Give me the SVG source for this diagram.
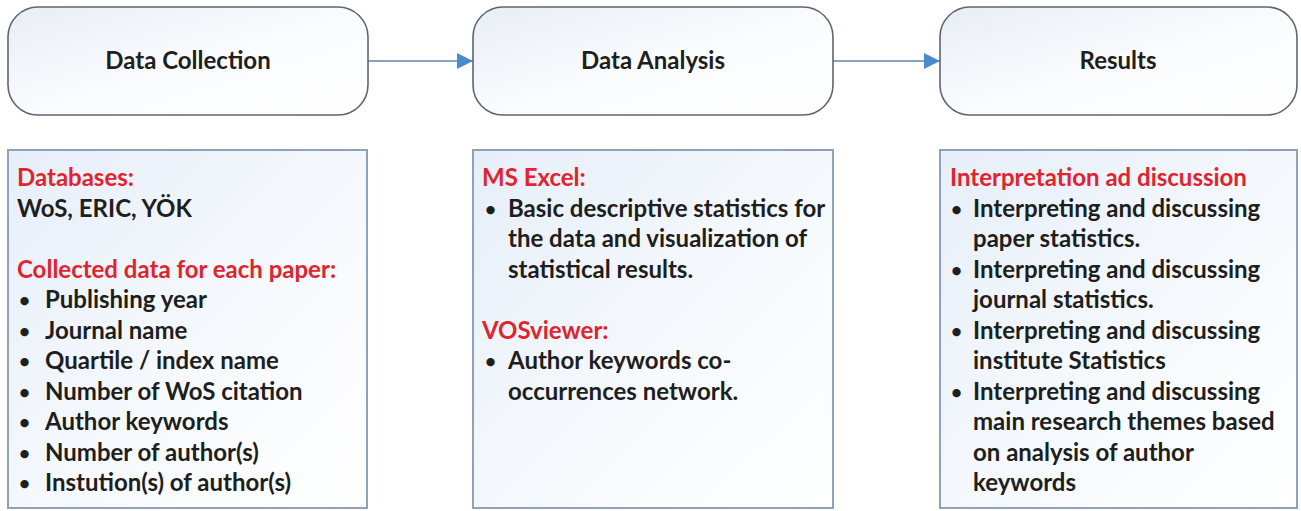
<svg xmlns="http://www.w3.org/2000/svg" width="1301" height="511" viewBox="0 0 1301 511">
  <defs>
    <linearGradient id="stageFill" x1="0" y1="0" x2="1" y2="1">
      <stop offset="0" stop-color="#e8edf5"/>
      <stop offset="0.55" stop-color="#fbfcfe"/>
      <stop offset="1" stop-color="#ffffff"/>
    </linearGradient>
    <linearGradient id="panelFill" x1="0" y1="0" x2="1" y2="1">
      <stop offset="0" stop-color="#e6eef8"/>
      <stop offset="0.6" stop-color="#f7fafd"/>
      <stop offset="1" stop-color="#ffffff"/>
    </linearGradient>
    <marker id="arrowHead" viewBox="0 0 10 10" refX="10" refY="5" markerWidth="16" markerHeight="16" markerUnits="userSpaceOnUse" orient="auto">
      <path d="M0,0 L10,5 L0,10 Z" fill="#4a8bd0"/>
    </marker>
  </defs>
  <style>
    .stage { fill: url(#stageFill); stroke: #5d6670; stroke-width: 1.6; }
    .panel { fill: url(#panelFill); stroke: #8ea3bb; stroke-width: 2; }
    .title { font-family: Lato, "Liberation Sans", sans-serif; font-weight: bold; font-size: 24px; fill: #1e1e1e; text-anchor: middle; }
    .txt { font-family: Lato, "Liberation Sans", sans-serif; font-weight: bold; font-size: 24px; fill: #1e1e1e; }
    .head { fill: #e0242e; }
    .dot { font-family: Lato, "Liberation Sans", sans-serif; font-weight: bold; font-size: 19px; fill: #1e1e1e; }
    .link { stroke: #5f87b4; stroke-width: 1.6; fill: none; marker-end: url(#arrowHead); }
  </style>
  <rect width="1301" height="511" fill="#ffffff"/>

  <g id="connectors">
    <line class="link" x1="368" y1="61" x2="473" y2="61"/>
    <line class="link" x1="833" y1="61" x2="940" y2="61"/>
  </g>

  <g id="data-collection">
    <rect class="stage" x="8" y="7" width="360" height="108" rx="30" ry="30"/>
    <text class="title" x="188" y="69">Data Collection</text>
  </g>

  <g id="data-analysis">
    <rect class="stage" x="473" y="7" width="360" height="108" rx="30" ry="30"/>
    <text class="title" x="653" y="69">Data Analysis</text>
  </g>

  <g id="results">
    <rect class="stage" x="940" y="7" width="357" height="108" rx="30" ry="30"/>
    <text class="title" x="1118" y="69">Results</text>
  </g>

  <g id="collection-details">
    <rect class="panel" x="8" y="150" width="359" height="358"/>
    <text class="txt head" x="17" y="186">Databases:</text>
    <text class="txt" x="17" y="216.5">WoS, ERIC, YÖK</text>
    <text class="txt head" x="17" y="277.5">Collected data for each paper:</text>
    <g class="dot">
      <text x="19" y="307">•</text>
      <text x="19" y="337.5">•</text>
      <text x="19" y="368">•</text>
      <text x="19" y="398.5">•</text>
      <text x="19" y="429">•</text>
      <text x="19" y="459.5">•</text>
      <text x="19" y="490">•</text>
    </g>
    <g class="txt">
      <text x="45" y="308">Publishing year</text>
      <text x="45" y="338.5">Journal name</text>
      <text x="45" y="369">Quartile / index name</text>
      <text x="45" y="399.5">Number of WoS citation</text>
      <text x="45" y="430">Author keywords</text>
      <text x="45" y="460.5">Number of author(s)</text>
      <text x="45" y="491">Instution(s) of author(s)</text>
    </g>
  </g>

  <g id="analysis-details">
    <rect class="panel" x="473" y="150" width="360" height="358"/>
    <text class="txt head" x="482" y="186">MS Excel:</text>
    <text class="dot" x="485" y="215.5">•</text>
    <g class="txt">
      <text x="508" y="216.5">Basic descriptive statistics for</text>
      <text x="508" y="247">the data and visualization of</text>
      <text x="508" y="277.5">statistical results.</text>
    </g>
    <text class="txt head" x="482" y="338.5">VOSviewer:</text>
    <text class="dot" x="485" y="368">•</text>
    <g class="txt">
      <text x="508" y="369">Author keywords co-</text>
      <text x="508" y="399.5">occurrences network.</text>
    </g>
  </g>

  <g id="results-details">
    <rect class="panel" x="940" y="150" width="357" height="358"/>
    <text class="txt head" x="950" y="186">Interpretation ad discussion</text>
    <g class="dot">
      <text x="951" y="215.5">•</text>
      <text x="951" y="276.5">•</text>
      <text x="951" y="337.5">•</text>
      <text x="951" y="398.5">•</text>
    </g>
    <g class="txt">
      <text x="973" y="216.5">Interpreting and discussing</text>
      <text x="973" y="247">paper statistics.</text>
      <text x="973" y="277.5">Interpreting and discussing</text>
      <text x="973" y="308">journal statistics.</text>
      <text x="973" y="338.5">Interpreting and discussing</text>
      <text x="973" y="369">institute Statistics</text>
      <text x="973" y="399.5">Interpreting and discussing</text>
      <text x="973" y="430">main research themes based</text>
      <text x="973" y="460.5">on analysis of author</text>
      <text x="973" y="491">keywords</text>
    </g>
  </g>
</svg>
